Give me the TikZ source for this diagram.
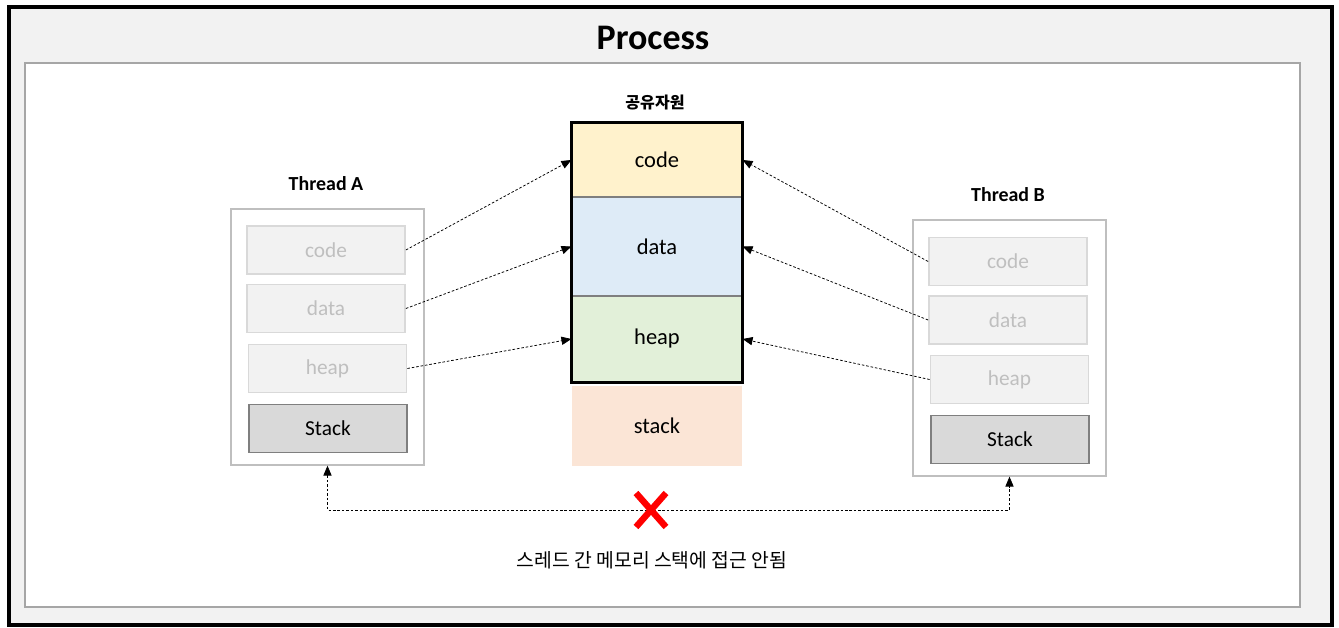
\documentclass[tikz,border=0pt]{standalone}
\usepackage{fontspec}
\setmainfont{Carlito}
\newfontfamily\krfont{Noto Sans CJK KR}
\usetikzlibrary{arrows.meta}

\definecolor{bandgray}{HTML}{F2F2F2}
\definecolor{frameline}{HTML}{A6A6A6}
\definecolor{threadline}{HTML}{BFBFBF}
\definecolor{boxline}{HTML}{D9D9D9}
\definecolor{fadetext}{HTML}{BFBFBF}
\definecolor{stackgray}{HTML}{D9D9D9}
\definecolor{stackline}{HTML}{7F7F7F}
\definecolor{codefill}{HTML}{FFF2CC}
\definecolor{datafill}{HTML}{DEEBF7}
\definecolor{heapfill}{HTML}{E2F0D9}
\definecolor{stackfill}{HTML}{FBE5D6}

\begin{document}
\begin{tikzpicture}[x=0.03cm, y=-0.03cm,
		threadbox/.style={draw=threadline, fill=white, line width=1.1pt, minimum width=5.79cm, minimum height=7.68cm},
		local/.style={draw=boxline, fill=bandgray, line width=1.5pt, minimum width=4.74cm, minimum height=1.44cm, text=fadetext, font=\fontsize{18.2}{21}\selectfont},
		localstack/.style={local, draw=stackline, fill=stackgray, text=black},
		seg/.style={draw=stackline, line width=1pt, minimum width=5.1cm, inner sep=0pt, font=\fontsize{19.2}{22}\selectfont},
		title/.style={font=\bfseries\fontsize{17}{20}\selectfont},
		share/.style={dash pattern=on 2.2pt off 1.6pt, line width=0.65pt, -{Triangle[length=8.5pt,width=7pt]}}]
			\useasboundingbox (0,0) rectangle (1339,628);
			% Frame
			\draw[fill=bandgray, line width=2.6pt] (9,7) rectangle (1332,625);
			\draw[fill=white, draw=frameline, line width=1.3pt] (25,63) rectangle (1300,607);
			\node[font=\bfseries\fontsize{30.7}{34}\selectfont] (process) at (653,38) {Process};
			% Shared resources
			\node[font=\krfont\bfseries\fontsize{13.7}{16}\selectfont] (shared) at (655,103) {공유자원};
			\node[seg, fill=codefill, minimum height=2.22cm] (code) at (657,160) {code};
			\node[seg, fill=datafill, minimum height=2.97cm] (data) at (657,246.5) {data};
			\node[seg, fill=heapfill, minimum height=2.58cm] (heap) at (657,339) {heap};
			\draw[line width=1.9pt] (code.north west) rectangle (heap.south east);
			\node[seg, draw=none, fill=stackfill, minimum height=2.4cm] (stack) at (657,426) {stack};
			% Thread A
			\node[title] (titleA) at (326,184) {Thread A};
			\node[threadbox] (threadA) at (327.5,337) {};
			\node[local] (codeA) at (326,250) {code};
			\node[local] (dataA) at (326,308.5) {data};
			\node[local] (heapA) at (327.5,368.5) {heap};
			\node[localstack] (stackA) at (328,428.5) {Stack};
			% Thread B
			\node[title] (titleB) at (1008,195) {Thread B};
			\node[threadbox] (threadB) at (1009.5,348) {};
			\node[local] (codeB) at (1008,261.5) {code};
			\node[local] (dataB) at (1008,320) {data};
			\node[local] (heapB) at (1009.5,379.5) {heap};
			\node[localstack] (stackB) at (1010,439.5) {Stack};
			% Edges
			\draw[share] (codeA.east) -- (code.west);
			\draw[share] (dataA.east) -- (data.west);
			\draw[share] (heapA.east) -- (heap.west);
			\draw[share] (codeB.west) -- (code.east);
			\draw[share] (dataB.west) -- (data.east);
			\draw[share] (heapB.west) -- (heap.east);
			% No access between stacks
			\coordinate (cross) at (651,510);
			\draw[share, {Triangle[length=8.5pt,width=7pt]}-{Triangle[length=8.5pt,width=7pt]}] (threadA.south) |- (cross) -| (threadB.south);
			\draw[red, line width=5.5pt] (cross) ++(-15,-17) -- ++(30,34);
			\draw[red, line width=5.5pt] (cross) ++(15,-17) -- ++(-30,34);
			\node[font=\krfont\fontsize{16.5}{19}\selectfont] (note) at (652,560) {스레드 간 메모리 스택에 접근 안됨};
		\end{tikzpicture}
\end{document}
